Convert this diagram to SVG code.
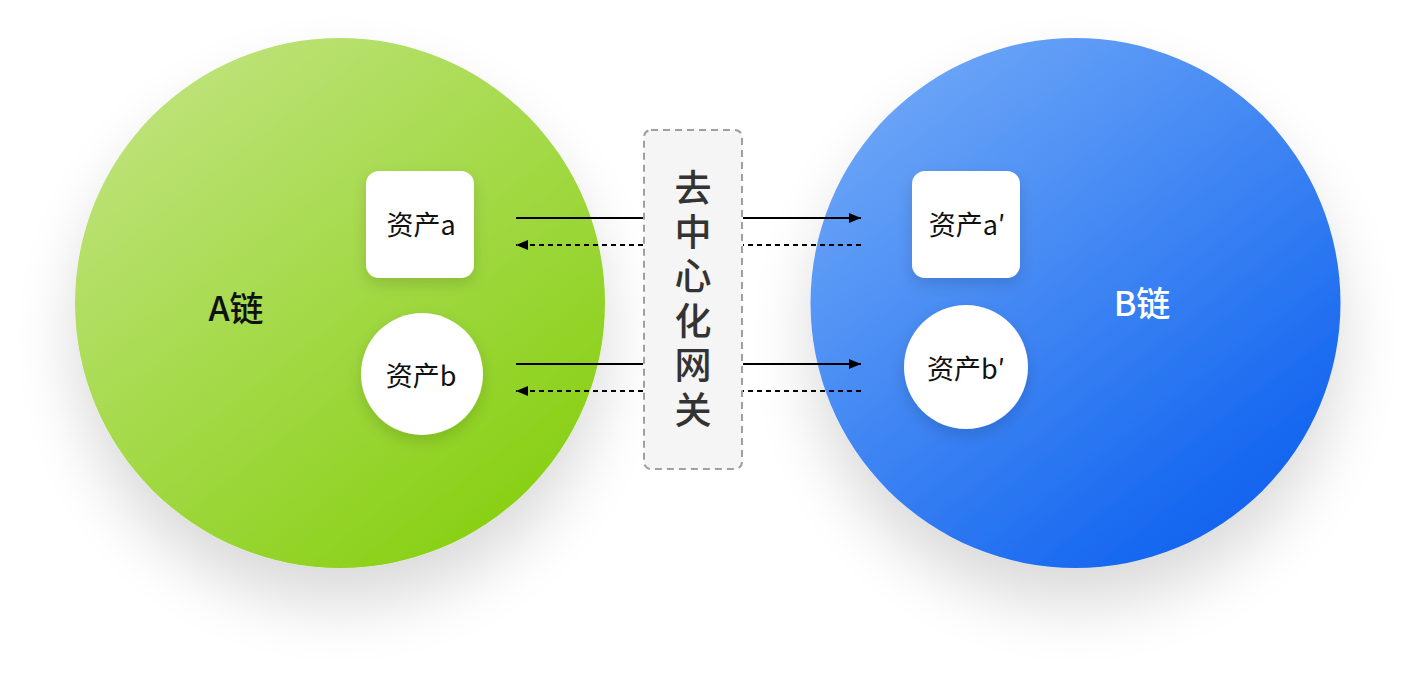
<svg xmlns="http://www.w3.org/2000/svg" width="1416" height="681" viewBox="0 0 1416 681">
  <defs>
    <linearGradient id="gGreen" x1="0.15" y1="0.05" x2="0.85" y2="0.95">
      <stop offset="0" stop-color="#bfe37c"/>
      <stop offset="1" stop-color="#86cf10"/>
    </linearGradient>
    <linearGradient id="gBlue" x1="0.15" y1="0.05" x2="0.85" y2="0.95">
      <stop offset="0" stop-color="#6ea7f7"/>
      <stop offset="1" stop-color="#0c60ef"/>
    </linearGradient>
    <filter id="bigShadow" x="-40%" y="-40%" width="180%" height="200%">
      <feGaussianBlur in="SourceAlpha" stdDeviation="32"/>
      <feOffset dx="0" dy="36" result="b"/>
      <feComponentTransfer><feFuncA type="linear" slope="0.15"/></feComponentTransfer>
      <feMerge><feMergeNode/><feMergeNode in="SourceGraphic"/></feMerge>
    </filter>
    <filter id="smallShadow" x="-40%" y="-40%" width="180%" height="200%">
      <feGaussianBlur in="SourceAlpha" stdDeviation="8"/>
      <feOffset dx="0" dy="6" result="b"/>
      <feComponentTransfer><feFuncA type="linear" slope="0.14"/></feComponentTransfer>
      <feMerge><feMergeNode/><feMergeNode in="SourceGraphic"/></feMerge>
    </filter>
    <marker id="arrow" viewBox="0 0 12 10" refX="12" refY="5" markerWidth="12" markerHeight="10" markerUnits="userSpaceOnUse" orient="auto">
      <path d="M0,0 L12,5 L0,10 z" fill="#000"/>
    </marker>
    <style>
      .cjk { font-family: "Noto Sans CJK SC", "Noto Sans", sans-serif; }
      .label { font-size: 27px; fill: #111; text-anchor: middle; dominant-baseline: central; }
      .chain { font-size: 34px; font-weight: 500; text-anchor: middle; dominant-baseline: central; }
      .gw { font-size: 37px; font-weight: 500; fill: #333; }
      .solid { stroke: #000; stroke-width: 2; fill: none; }
      .dotted { stroke: #000; stroke-width: 2; fill: none; stroke-dasharray: 5 4; }
      .node { fill: #fff; }
    </style>
  </defs>

  <g id="chainA">
    <circle cx="340" cy="303" r="265" fill="url(#gGreen)" filter="url(#bigShadow)"/>
    <text class="cjk chain" x="236" y="306" fill="#111">A链</text>
  </g>
  <g id="chainB">
    <circle cx="1075.5" cy="303" r="265" fill="url(#gBlue)" filter="url(#bigShadow)"/>
    <text class="cjk chain" x="1142" y="301" fill="#fff">B链</text>
  </g>

  <g id="assetA">
    <rect class="node" x="366" y="171" width="108" height="107" rx="13" filter="url(#smallShadow)"/>
    <text class="cjk label" x="421" y="223">资产a</text>
  </g>
  <g id="assetB">
    <circle class="node" cx="422" cy="374" r="61" filter="url(#smallShadow)"/>
    <text class="cjk label" x="421" y="374">资产b</text>
  </g>
  <g id="assetA2">
    <rect class="node" x="912" y="171" width="108" height="107" rx="13" filter="url(#smallShadow)"/>
    <text class="cjk label" x="967" y="223">资产a′</text>
  </g>
  <g id="assetB2">
    <circle class="node" cx="966" cy="367" r="62" filter="url(#smallShadow)"/>
    <text class="cjk label" x="966" y="367">资产b′</text>
  </g>

  <g id="gateway">
    <rect x="644" y="130" width="98" height="339" rx="7" fill="#f5f5f5" stroke="#a0a0a0" stroke-width="2" stroke-dasharray="7 5"/>
    <text class="cjk gw" x="693" y="169" writing-mode="tb" letter-spacing="7.4">去中心化网关</text>
  </g>

  <g id="connectors">
    <line class="solid" x1="516" y1="218" x2="643" y2="218"/>
    <line class="solid" x1="743" y1="218" x2="861" y2="218" marker-end="url(#arrow)"/>
    <line class="dotted" x1="861" y1="245" x2="743" y2="245"/>
    <line class="dotted" x1="643" y1="245" x2="516" y2="245" marker-end="url(#arrow)"/>
    <line class="solid" x1="516" y1="364" x2="643" y2="364"/>
    <line class="solid" x1="743" y1="364" x2="861" y2="364" marker-end="url(#arrow)"/>
    <line class="dotted" x1="861" y1="391" x2="743" y2="391"/>
    <line class="dotted" x1="643" y1="391" x2="516" y2="391" marker-end="url(#arrow)"/>
  </g>
</svg>
